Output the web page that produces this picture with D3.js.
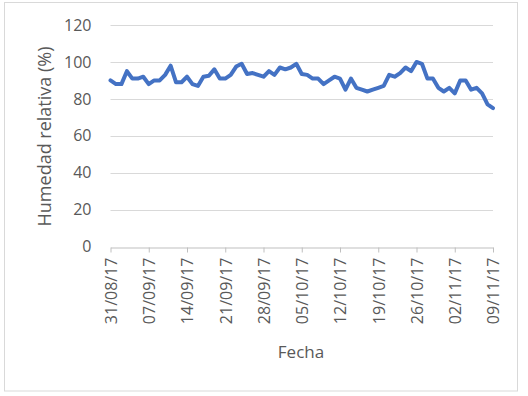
<!DOCTYPE html>
<html>
<head>
<meta charset="utf-8">
<script src="https://cdn.jsdelivr.net/npm/d3@7"></script>
<style>
  body { margin: 0; background: #fff; }
  svg { display: block; }
  text { font-family: "Open Sans", sans-serif; fill: #595959; }
</style>
</head>
<body>
<div id="chart"></div>
<script>
// daily readings, starting 31/08/17
const startDate = "2017-08-31"
const humidity = [
  90, 88, 88, 95, 91, 91, 92, 88, 90, 90,
  93, 98, 89, 89, 92, 88, 87, 92, 92.5, 96,
  91, 91, 93, 97.5, 99, 93.5, 94, 93, 92, 95,
  93, 97, 96, 97, 99, 93.5, 93, 91, 91, 88,
  90, 92, 91, 85, 91, 86, 85, 84, 85, 86,
  87, 93, 92, 94, 97, 95, 100, 99, 91, 91,
  86, 84, 86, 83, 90, 90, 85, 86, 83, 77,
  75
]
const xTickLabels = ["31/08/17", "07/09/17", "14/09/17", "21/09/17", "28/09/17", "05/10/17",
  "12/10/17", "19/10/17", "26/10/17", "02/11/17", "09/11/17"]
const yTicks = [0, 20, 40, 60, 80, 100, 120]

const width = 528, height = 396
const margin = { left: 110.5, right: 35, top: 25, bottom: 149.3 }

const parse = d3.utcParse("%Y-%m-%d")
const parseLabel = d3.utcParse("%d/%m/%y")
const fmt = d3.utcFormat("%d/%m/%y")
const t0 = parse(startDate)
const data = humidity.map((v, i) => ({ date: d3.utcDay.offset(t0, i), value: v }))

const svg = d3.select("#chart").append("svg")
  .attr("width", width)
  .attr("height", height)

// outer chart border
svg.append("rect")
  .attr("x", 4.5).attr("y", 2.5)
  .attr("width", 513).attr("height", 388.5)
  .attr("fill", "#fff")
  .attr("stroke", "#d9d9d9")

const x = d3.scaleUtc()
  .domain([t0, d3.utcDay.offset(t0, humidity.length - 1)])
  .range([margin.left, width - margin.right])

const y = d3.scaleLinear()
  .domain([0, 120])
  .range([height - margin.bottom, margin.top])

// gridlines
svg.append("g")
  .selectAll("line")
  .data(yTicks.filter(d => d > 0))
  .join("line")
  .attr("x1", margin.left)
  .attr("x2", width - margin.right)
  .attr("y1", d => Math.round(y(d)) + 0.5)
  .attr("y2", d => Math.round(y(d)) + 0.5)
  .attr("stroke", "#d9d9d9")
  .attr("stroke-width", 1)

// y axis labels
const yAxis = svg.append("g")
  .attr("transform", `translate(${margin.left},0)`)
  .call(d3.axisLeft(y).tickValues(yTicks).tickSize(0).tickPadding(19))
yAxis.select(".domain").remove()
yAxis.selectAll("text")
  .style("font-size", "16px")
  .style("fill", "#595959")
  .style("font-family", "Open Sans")

// x axis
const xAxis = svg.append("g")
  .attr("transform", `translate(0,${Math.round(y(0)) + 0.5})`)
  .call(d3.axisBottom(x)
    .tickValues(xTickLabels.map(parseLabel))
    .tickFormat(fmt)
    .tickSizeInner(5)
    .tickSizeOuter(0))
xAxis.select(".domain").attr("stroke", "#bfbfbf")
xAxis.selectAll(".tick line").attr("stroke", "#bfbfbf")
xAxis.selectAll("text")
  .attr("transform", "rotate(-90)")
  .attr("text-anchor", "end")
  .attr("x", -10)
  .attr("y", 0)
  .attr("dy", "0.36em")
  .style("font-size", "16px")
  .style("fill", "#595959")
  .style("font-family", "Open Sans")

// line
svg.append("path")
  .datum(data)
  .attr("fill", "none")
  .attr("stroke", "#4472c4")
  .attr("stroke-width", 4)
  .attr("stroke-linejoin", "round")
  .attr("stroke-linecap", "round")
  .attr("d", d3.line().x(d => x(d.date)).y(d => y(d.value)))

// axis titles
svg.append("text")
  .attr("x", 301)
  .attr("y", 358)
  .attr("text-anchor", "middle")
  .style("font-size", "17px")
  .text("Fecha")

svg.append("text")
  .attr("transform", `translate(51,136.5) rotate(-90)`)
  .attr("text-anchor", "middle")
  .style("font-size", "18px")
  .text("Humedad relativa (%)")
</script>
</body>
</html>
